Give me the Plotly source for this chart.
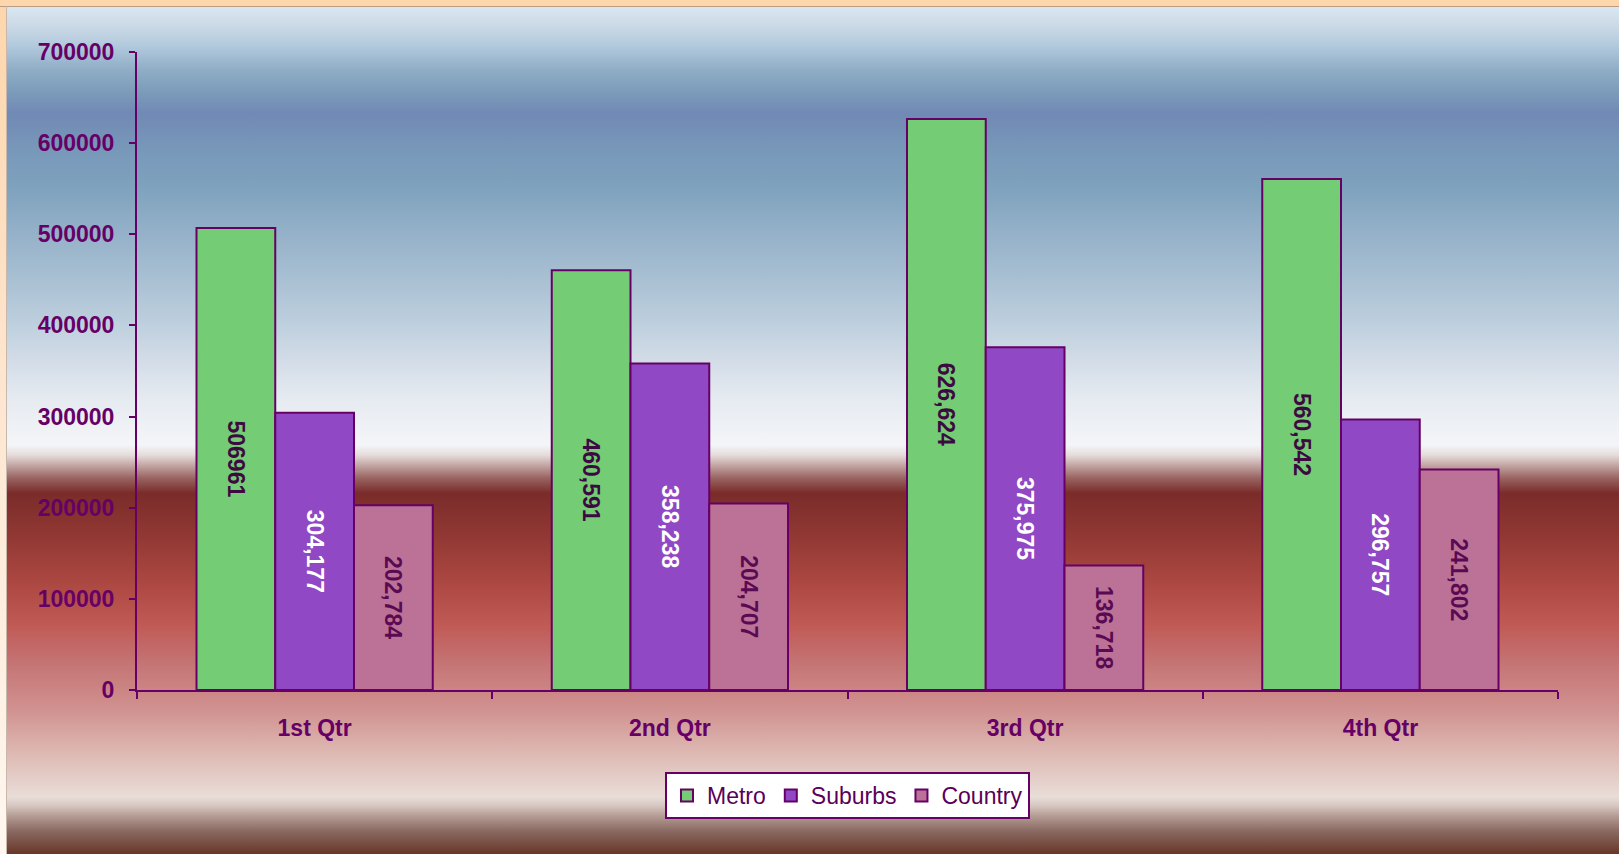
import base64
import plotly.graph_objects as go

# ---- data ----
quarters = ["1st Qtr", "2nd Qtr", "3rd Qtr", "4th Qtr"]
metro = [506961, 460591, 626624, 560542]
suburbs = [304177, 358238, 375975, 296757]
country = [202784, 204707, 136718, 241802]
# how each data label is written in the original (True = thousands separator)
metro_commas = [False, True, True, True]
suburbs_commas = [True, True, True, True]
country_commas = [True, True, True, True]
y_ticks = [0, 100000, 200000, 300000, 400000, 500000, 600000, 700000]


def labels(values, commas):
    return [f"{v:,}" if c else f"{v}" for v, c in zip(values, commas)]


W, H = 1619, 854
L, R, T, B = 137, 61, 52, 164
PW, PH = W - L - R, H - T - B

FONT = "Liberation Sans, Arial, sans-serif"
AXIS = "#660066"

# ---- background (frame + Excel-like gradient) as an SVG image ----
stops = [
    (7, "#d9e7f3"), (25, "#ccdae6"), (45, "#b3cadd"), (70, "#8fadc6"),
    (90, "#7d9dba"), (113, "#7189b5"), (150, "#7898b9"), (185, "#7ea1bd"),
    (230, "#93b0c8"), (280, "#a9c0d3"), (320, "#bccedd"), (360, "#d2dce7"),
    (400, "#e6ebf1"), (445, "#f4f5f8"), (455, "#e6dcdc"), (465, "#c4a8a6"),
    (478, "#996462"), (493, "#7a2c2a"), (530, "#8e3632"), (590, "#b04a44"),
    (625, "#c05a55"), (660, "#c47272"), (710, "#d09290"), (757, "#dfbcb6"),
    (797, "#e9ddd8"), (806, "#d6c6c0"), (816, "#b49c94"), (831, "#8a6a62"),
    (854, "#683628"),
]
y0 = 7
stop_xml = "".join(
    f'<stop offset="{(py - y0) / (H - y0):.4f}" stop-color="{c}"/>' for py, c in stops
)
svg = f'''<svg xmlns="http://www.w3.org/2000/svg" width="{W}" height="{H}" viewBox="0 0 {W} {H}" preserveAspectRatio="none">
<defs>
<linearGradient id="frame" x1="0" y1="0" x2="0" y2="1">
<stop offset="0" stop-color="#fdd6ac"/><stop offset="0.45" stop-color="#fde6d0"/><stop offset="1" stop-color="#fff7f0"/>
</linearGradient>
<linearGradient id="bg" x1="0" y1="0" x2="0" y2="1">{stop_xml}</linearGradient>
</defs>
<rect x="0" y="0" width="{W}" height="{H}" fill="url(#frame)"/>
<rect x="7" y="{y0}" width="{W - 7}" height="{H - y0}" fill="url(#bg)"/>
<line x1="0" y1="6.5" x2="{W}" y2="6.5" stroke="#b89c84" stroke-width="1.2"/>
<line x1="6.5" y1="6" x2="6.5" y2="{H}" stroke="#c8b8ac" stroke-width="1"/>
</svg>'''
svg_uri = "data:image/svg+xml;base64," + base64.b64encode(svg.encode()).decode()

fig = go.Figure()

series = [
    ("Metro", metro, labels(metro, metro_commas), "#74cc74", "#3c0a40"),
    ("Suburbs", suburbs, labels(suburbs, suburbs_commas), "#9048c4", "#ffffff"),
    ("Country", country, labels(country, country_commas), "#bb7296", "#5a0a52"),
]
for name, vals, txt, color, tcolor in series:
    fig.add_trace(go.Bar(
        name=name, x=quarters, y=vals, text=txt,
        textposition="inside", insidetextanchor="middle", textangle=90,
        constraintext="none",
        textfont=dict(family=FONT, size=23, color=tcolor, weight="bold"),
        marker=dict(color=color, line=dict(color=AXIS, width=2)),
        hoverinfo="x+y+name",
    ))

fig.update_layout(
    width=W, height=H,
    margin=dict(l=L, r=R, t=T, b=B, pad=0),
    paper_bgcolor="#fdd9b0",
    plot_bgcolor="rgba(0,0,0,0)",
    barmode="group", bargap=0.335, bargroupgap=0,
    font=dict(family=FONT, color=AXIS),
    images=[dict(
        source=svg_uri, xref="paper", yref="paper",
        x=-L / PW, y=(PH + T) / PH, sizex=W / PW, sizey=H / PH,
        xanchor="left", yanchor="top", sizing="stretch", layer="below",
    )],
    xaxis=dict(
        type="category", showline=True, linecolor=AXIS, linewidth=2,
        ticks="outside", tickson="boundaries", ticklen=7, tickwidth=2, tickcolor=AXIS,
        tickfont=dict(family=FONT, size=23, color=AXIS, weight="bold"),
        ticklabelstandoff=16,
        showgrid=False, zeroline=False,
    ),
    yaxis=dict(
        range=[0, 700000], tickvals=y_ticks, tickformat="d",
        showline=True, linecolor=AXIS, linewidth=2,
        ticks="outside", ticklen=6, tickwidth=2, tickcolor=AXIS,
        tickfont=dict(family=FONT, size=23, color=AXIS, weight="bold"),
        ticklabelstandoff=10,
        showgrid=False, zeroline=False,
    ),
    legend=dict(
        orientation="h", x=0.5, xanchor="center", y=-(772 - (T + PH)) / PH, yanchor="top",
        bgcolor="#ffffff", bordercolor=AXIS, borderwidth=2,
        font=dict(family=FONT, size=23, color="#5a005a"),
        itemwidth=30, tracegroupgap=0,
    ),
    showlegend=True,
)

fig.write_html(
    "out.html",
    config={"displayModeBar": False},
    post_script="document.body.style.margin='0';document.body.style.overflow='hidden';",
)
